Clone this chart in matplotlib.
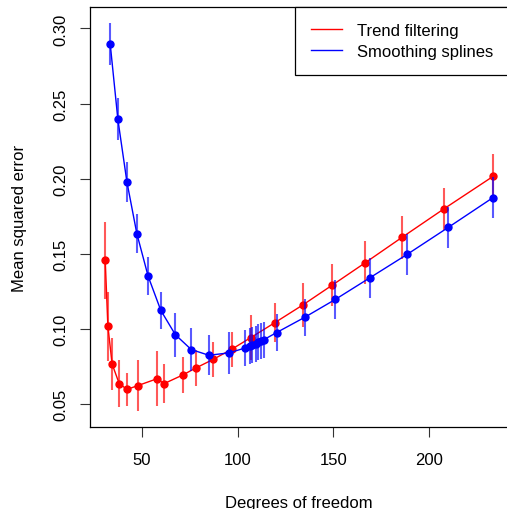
import matplotlib
matplotlib.use("Agg")
import matplotlib.pyplot as plt
import numpy as np

plt.rcParams["font.family"] = ["Liberation Sans", "DejaVu Sans"]

# Trend filtering: degrees of freedom, mean squared error, standard error
tf_df = [30.9, 32.3, 34.5, 38.2, 42.3, 47.9, 58.0, 61.6, 71.4, 78.3,
         87.3, 96.9, 106.8, 119.4, 133.9, 149.5, 166.7, 185.9, 207.8, 233.3]
tf_mse = [0.1456, 0.1017, 0.0766, 0.0635, 0.0597, 0.0622, 0.0668, 0.0635, 0.0693, 0.0740,
          0.0797, 0.0864, 0.0941, 0.1041, 0.1158, 0.1292, 0.1441, 0.1610, 0.1800, 0.2015]
tf_se = [0.0257, 0.0231, 0.0175, 0.0155, 0.0111, 0.0172, 0.0184, 0.0128, 0.0121, 0.0120,
         0.0117, 0.0117, 0.0150, 0.0131, 0.0144, 0.0142, 0.0141, 0.0142, 0.0140, 0.0150]

# Smoothing splines
ss_df = [33.5, 37.5, 42.2, 47.4, 53.3, 59.9, 67.5, 75.8, 85.0, 95.6,
         104.0, 106.4, 107.6, 109.4, 110.7, 112.0, 113.7, 120.3, 134.9, 151.0,
         168.9, 188.5, 210.0, 233.3]
ss_mse = [0.2897, 0.2395, 0.1980, 0.1634, 0.1350, 0.1123, 0.0961, 0.0862, 0.0824, 0.0840,
          0.0873, 0.0884, 0.0890, 0.0901, 0.0910, 0.0918, 0.0928, 0.0975, 0.1076, 0.1196,
          0.1339, 0.1496, 0.1676, 0.1874]
ss_se = [0.0142, 0.0139, 0.0133, 0.0131, 0.0125, 0.0122, 0.0146, 0.0141, 0.0133, 0.0139,
         0.0120, 0.0120, 0.0120, 0.0120, 0.0120, 0.0120, 0.0120, 0.0125, 0.0125, 0.0130,
         0.0134, 0.0137, 0.0137, 0.0139]

W, H = 507, 510
fig = plt.figure(figsize=(W / 100, H / 100), dpi=100)
ax = fig.add_axes([89.7 / W, 1 - 428 / H, (508.6 - 89.7) / W, (428 - 8) / H])


def draw(df, mse, se, color, label):
    df, mse, se = map(np.asarray, (df, mse, se))
    ax.plot(df, mse, "-o", color=color, lw=1.0, ms=5, label=label)
    ax.vlines(df, mse - se, mse + se, color=color, alpha=0.65, lw=1.5)


draw(tf_df, tf_mse, tf_se, "#FF0000", "Trend filtering")
draw(ss_df, ss_mse, ss_se, "#0000FF", "Smoothing splines")

# R-style 4% padding
allx = np.concatenate([tf_df, ss_df])
lo = np.concatenate([np.subtract(tf_mse, tf_se), np.subtract(ss_mse, ss_se)])
hi = np.concatenate([np.add(tf_mse, tf_se), np.add(ss_mse, ss_se)])
px = 0.04 * (allx.max() - allx.min())
py = 0.04 * (hi.max() - lo.min())
ax.set_xlim(allx.min() - px, allx.max() + px)
ax.set_ylim(lo.min() - py, hi.max() + py)

ax.set_xticks([50, 100, 150, 200])
ax.set_yticks([0.05, 0.10, 0.15, 0.20, 0.25, 0.30])
ax.set_yticklabels(["0.05", "0.10", "0.15", "0.20", "0.25", "0.30"], rotation=90, va="center")
ax.tick_params(axis="both", direction="out", length=7, width=0.8, labelsize=12, color="#333333")
ax.tick_params(axis="x", pad=11)
ax.tick_params(axis="y", pad=8)
for s in ax.spines.values():
    s.set_linewidth(0.9)

ax.set_xlabel("Degrees of freedom", fontsize=12, labelpad=20)
ax.set_ylabel("Mean squared error", fontsize=12, labelpad=19)

leg = ax.legend(loc="upper right", borderaxespad=0, fancybox=False, edgecolor="black",
                fontsize=12, handlelength=1.9, handletextpad=0.85, labelspacing=0.38,
                borderpad=0.95, framealpha=1)
leg.get_frame().set_linewidth(0.9)
for h in leg.legend_handles:
    h.set_marker("")
    h.set_linewidth(1.0)

fig.savefig("out.png", dpi=100)
